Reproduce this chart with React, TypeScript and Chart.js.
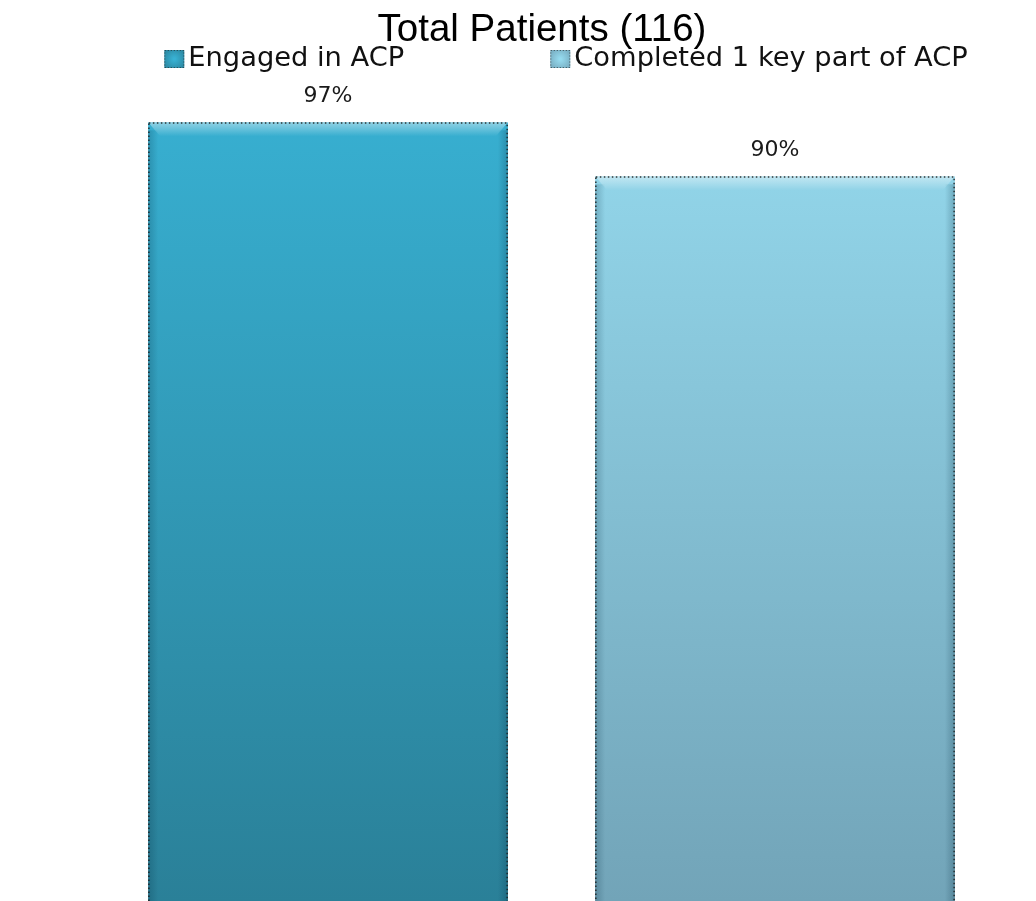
import React, { useEffect, useRef } from 'react';
import { Chart, registerables } from 'chart.js';

Chart.register(...registerables);

// ---- data ----
const categories = ['Total Patients (116)'];
const seriesLabels = ['Engaged in ACP', 'Completed 1 key part of ACP'];
const engagedValues = [97];
const completedValues = [90];
const titleLines = ['Total Patients (116)'];
const seriesTopColors = ['#38b1d3', '#95daee'];
const seriesBottomColors = ['#2a8098', '#72a4b8'];
const axisMin = -4;
const axisMax = 102.2;

const gradientFor = (i: number) => (ctx: any) => {
  const chart = ctx.chart;
  const area = chart.chartArea;
  if (!area) return seriesTopColors[i];
  const g = chart.ctx.createLinearGradient(0, area.top, 0, area.bottom);
  g.addColorStop(0, seriesTopColors[i]);
  g.addColorStop(1, seriesBottomColors[i]);
  return g;
};

const barDecorPlugin = {
  id: 'barDecor',
  afterDatasetsDraw(chart: any) {
    const ctx = chart.ctx;
    chart.data.datasets.forEach((ds: any, di: number) => {
      const meta = chart.getDatasetMeta(di);
      meta.data.forEach((el: any, j: number) => {
        const { x, y, base, width } = el.getProps(['x', 'y', 'base', 'width'], true);
        const left = x - width / 2;
        const right = x + width / 2;
        const top = y;
        const bottom = base;
        ctx.save();
        // top bevel highlight
        let g = ctx.createLinearGradient(0, top, 0, top + 14);
        g.addColorStop(0, 'rgba(255,255,255,0.45)');
        g.addColorStop(1, 'rgba(255,255,255,0)');
        ctx.fillStyle = g;
        ctx.beginPath();
        ctx.moveTo(left, top);
        ctx.lineTo(right, top);
        ctx.lineTo(right - 12, top + 14);
        ctx.lineTo(left + 12, top + 14);
        ctx.closePath();
        ctx.fill();
        // side shading
        g = ctx.createLinearGradient(left, 0, left + 10, 0);
        g.addColorStop(0, 'rgba(0,40,60,0.22)');
        g.addColorStop(1, 'rgba(0,40,60,0)');
        ctx.fillStyle = g;
        ctx.fillRect(left, top + 8, 10, bottom - top - 8);
        g = ctx.createLinearGradient(right - 10, 0, right, 0);
        g.addColorStop(0, 'rgba(0,40,60,0)');
        g.addColorStop(1, 'rgba(0,40,60,0.25)');
        ctx.fillStyle = g;
        ctx.fillRect(right - 10, top + 8, 10, bottom - top - 8);
        // dotted border
        ctx.setLineDash([1.5, 2.5]);
        ctx.lineWidth = 1.5;
        ctx.strokeStyle = 'rgba(25,25,25,0.85)';
        ctx.strokeRect(left + 0.75, top + 0.75, width - 1.5, bottom - top + 10);
        ctx.restore();
        // value label
        ctx.save();
        ctx.font = "22px 'DejaVu Sans', Verdana, sans-serif";
        ctx.fillStyle = '#1a1a1a';
        ctx.textAlign = 'center';
        ctx.textBaseline = 'middle';
        ctx.fillText(ds.data[j] + '%', x, top - 26);
        ctx.restore();
      });
    });
  },
};

const legendPlugin = {
  id: 'spacedLegend',
  afterDraw(chart: any) {
    const ctx = chart.ctx;
    ctx.save();
    ctx.font = "27.3px 'DejaVu Sans', Verdana, sans-serif";
    const boxW = 20;
    const boxH = 18;
    const gapText = 4;
    const gapItems = 146;
    const items = chart.data.datasets.map((ds: any, i: number) => ({
      text: ds.label,
      w: boxW + gapText + ctx.measureText(ds.label).width,
      i,
    }));
    const total = items.reduce((s: number, it: any) => s + it.w, 0) + gapItems * (items.length - 1);
    const cx = chart.width / 2 + 24;
    const cy = 59;
    let xPos = cx - total / 2;
    items.forEach((it: any) => {
      const bx = xPos;
      const by = cy - boxH / 2;
      const g = ctx.createRadialGradient(bx + boxW / 2, by + boxH / 2, 1, bx + boxW / 2, by + boxH / 2, boxW * 0.7);
      g.addColorStop(0, seriesTopColors[it.i]);
      g.addColorStop(1, seriesBottomColors[it.i]);
      ctx.fillStyle = g;
      ctx.fillRect(bx, by, boxW, boxH);
      ctx.setLineDash([1, 2]);
      ctx.lineWidth = 1;
      ctx.strokeStyle = 'rgba(30,30,30,0.7)';
      ctx.strokeRect(bx + 0.5, by + 0.5, boxW - 1, boxH - 1);
      ctx.setLineDash([]);
      ctx.fillStyle = '#111';
      ctx.textAlign = 'left';
      ctx.textBaseline = 'middle';
      ctx.fillText(it.text, bx + boxW + gapText, cy);
      xPos += it.w + gapItems;
    });
    ctx.restore();
  },
};

export default function App() {
  const ref = useRef<HTMLCanvasElement | null>(null);
  useEffect(() => {
    if (!ref.current) return;
    const chart = new Chart(ref.current, {
      type: 'bar',
      data: {
        labels: categories,
        datasets: [
          {
            label: seriesLabels[0],
            data: engagedValues,
            backgroundColor: gradientFor(0),
            borderWidth: 0,
            base: axisMin,
            categoryPercentage: 0.938,
            barPercentage: 0.805,
          },
          {
            label: seriesLabels[1],
            data: completedValues,
            backgroundColor: gradientFor(1),
            borderWidth: 0,
            base: axisMin,
            categoryPercentage: 0.938,
            barPercentage: 0.805,
          },
        ],
      } as any,
      options: {
        responsive: false,
        animation: false,
        layout: { padding: 0 },
        plugins: {
          legend: { display: false },
          tooltip: { enabled: false },
          title: {
            display: true,
            text: titleLines,
            color: '#000',
            font: { family: "'Liberation Sans', Arial, sans-serif", size: 38.5, weight: 'normal' },
            padding: { top: 7, bottom: 29 },
          },
        },
        scales: {
          x: { display: false },
          y: {
            display: true,
            min: axisMin,
            max: axisMax,
            ticks: { display: false },
            grid: { display: false },
            border: { display: false },
            afterFit: (s: any) => {
              s.width = 19;
            },
          },
        },
      } as any,
      plugins: [barDecorPlugin, legendPlugin],
    });
    return () => chart.destroy();
  }, []);
  return (
    <div style={{ position: 'relative', width: 1020, height: 893, overflow: 'hidden' }}>
      <canvas
        ref={ref}
        width={972}
        height={901}
        style={{ position: 'absolute', left: 48, top: -8 }}
      />
    </div>
  );
}
